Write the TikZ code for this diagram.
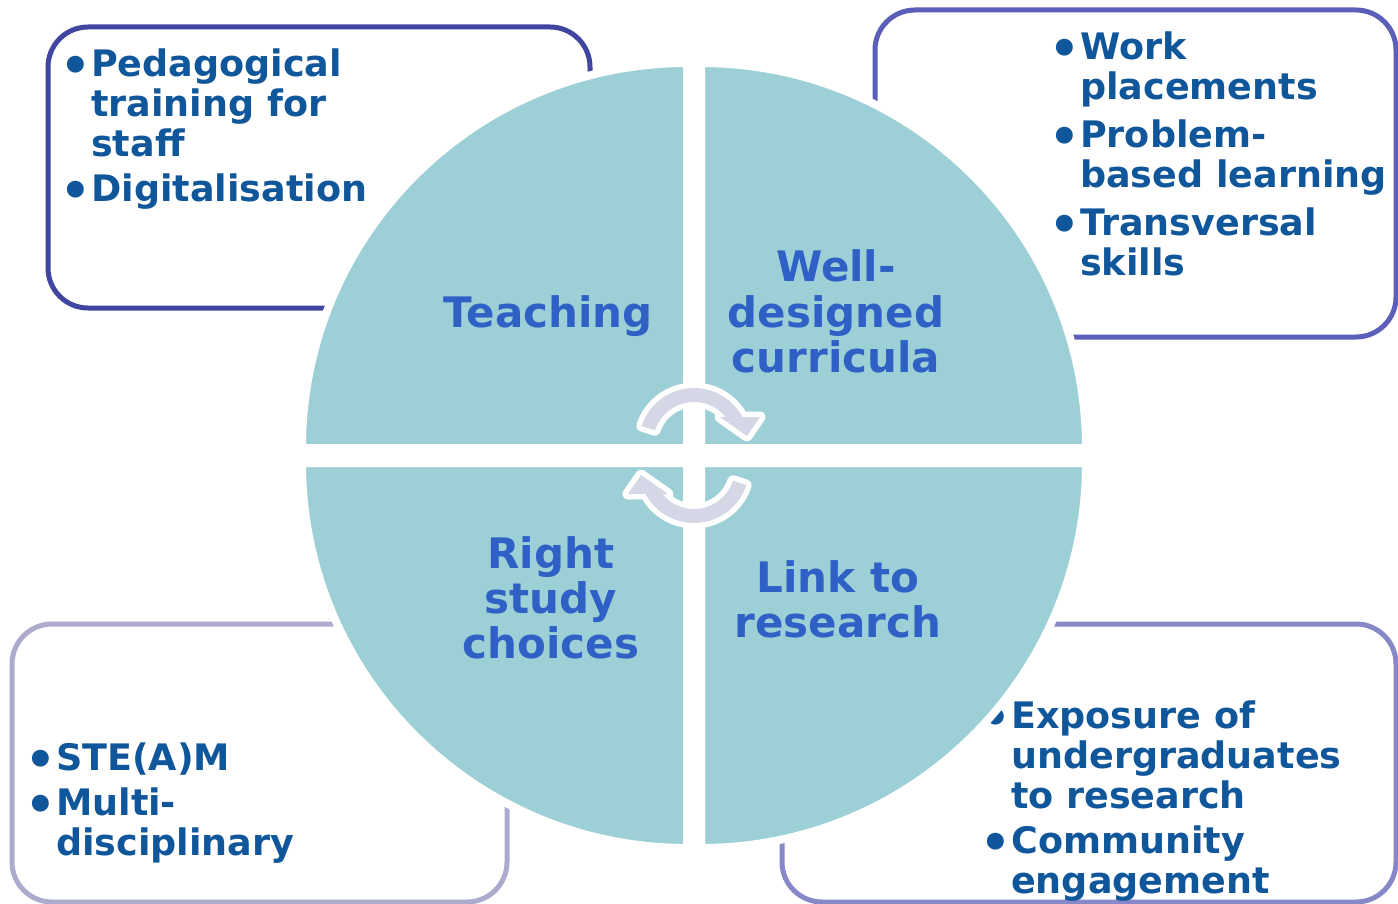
\documentclass[tikz,border=0pt]{standalone}
\usepackage{fontspec}
\setmainfont{DejaVu Sans}
\definecolor{boxA}{HTML}{4046A0}
\definecolor{boxB}{HTML}{5C5FB9}
\definecolor{boxC}{HTML}{ACABCE}
\definecolor{boxD}{HTML}{8688C8}
\definecolor{bultxt}{HTML}{10569A}
\definecolor{labtxt}{HTML}{2F60C6}
\definecolor{tealq}{HTML}{9DD0D6}
\definecolor{arrowc}{HTML}{D5D6E6}
\newcommand\bu{\llap{\raisebox{-6pt}{\fontsize{48}{40}\selectfont •}\hspace{0.5pt}}}
\begin{document}
\begin{tikzpicture}[x=1pt,y=1pt,
  framebox/.style={line width=5pt, rounded corners=40pt},
  bultext/.style={text=bultxt, font=\bfseries\fontsize{36.5}{40}\selectfont, inner sep=0pt, anchor=base west},
  qlabel/.style={text=labtxt, font=\bfseries\fontsize{42}{44.5}\selectfont, inner sep=0pt, anchor=base},
  quarter/.style={fill=tealq, draw=white, line width=8pt},
  cyclearrow/.style={fill=arrowc, preaction={draw=white, line width=11pt, line join=round}}]
\useasboundingbox (0,0) rectangle (1398,-904);
\fill[white] (0,0) rectangle (1398,-904);
% frames
\draw[framebox, draw=boxA] (48,-27) rectangle (590,-308);
\draw[framebox, draw=boxB] (875,-10) rectangle (1396,-337);
\draw[framebox, draw=boxC] (12,-624) rectangle (507,-902);
\draw[framebox, draw=boxD] (782,-624) rectangle (1396,-902);
% frame texts
\node[bultext] (tl) at (91,-77) {\begin{tabular}[t]{@{}l@{}}\bu Pedagogical\\training for\\staff\\[5pt]\bu Digitalisation\end{tabular}};
\node[bultext] (tr) at (1080,-60) {\begin{tabular}[t]{@{}l@{}}\bu Work\\placements\\[8pt]\bu Problem-\\based learning\\[8pt]\bu Transversal\\skills\end{tabular}};
\node[bultext] (bl) at (56,-770) {\begin{tabular}[t]{@{}l@{}}\bu STE(A)M\\[5pt]\bu Multi-\\disciplinary\end{tabular}};
\node[bultext] (br) at (1011,-728) {\begin{tabular}[t]{@{}l@{}}\bu Exposure of\\undergraduates\\to research\\[5pt]\bu Community\\engagement\end{tabular}};
% quarters
\path[quarter] (687,-448) -- ++(-385,0) arc[start angle=180, end angle=90, radius=385] -- cycle;
\path[quarter] (701,-448) -- ++(0,385) arc[start angle=90, end angle=0, radius=385] -- cycle;
\path[quarter] (687,-463) -- ++(-385,0) arc[start angle=180, end angle=270, radius=385] -- cycle;
\path[quarter] (701,-463) -- ++(385,0) arc[start angle=0, end angle=-90, radius=385] -- cycle;
% cycle arrows
\path[cyclearrow] ([shift={(694,-443)}]162:55) arc[start angle=162, end angle=28.2, radius=55] -- (760,-417) -- (747,-436) -- (720,-417) -- ([shift={(694,-443)}]39.4:41) arc[start angle=39.4, end angle=162, radius=41] -- cycle;
\begin{scope}[rotate around={180:(694,-455.5)}]
\path[cyclearrow] ([shift={(694,-443)}]162:55) arc[start angle=162, end angle=28.2, radius=55] -- (760,-417) -- (747,-436) -- (720,-417) -- ([shift={(694,-443)}]39.4:41) arc[start angle=39.4, end angle=162, radius=41] -- cycle;
\end{scope}
% quarter labels
\node[qlabel] (teach) at (548,-327) {Teaching};
\node[qlabel] (curr) at (836,-282) {\begin{tabular}[t]{@{}c@{}}Well-\\designed\\curricula\end{tabular}};
\node[qlabel] (choice) at (551,-568) {\begin{tabular}[t]{@{}c@{}}Right\\study\\choices\end{tabular}};
\node[qlabel] (link) at (838,-592) {\begin{tabular}[t]{@{}c@{}}Link to\\research\end{tabular}};
\end{tikzpicture}
\end{document}
